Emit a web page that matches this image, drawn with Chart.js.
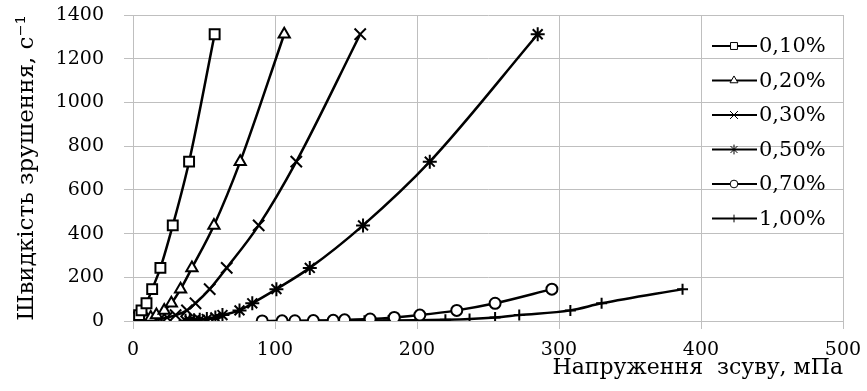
<!DOCTYPE html>
<html>
<head>
<meta charset="utf-8">
<script src="https://cdn.jsdelivr.net/npm/chart.js@4.4.1/dist/chart.umd.min.js"></script>
<style>
  html, body { margin: 0; padding: 0; background: #fff; }
</style>
</head>
<body>
<canvas id="shearChart" width="867" height="391"></canvas>
<script>
// series labels and marker shapes
const seriesLabels = ['0,10%', '0,20%', '0,30%', '0,50%', '0,70%', '1,00%'];
const markers = ['rect', 'triangle', 'crossRot', 'star', 'circle', 'cross'];
const markerRadius = [7, 6.5, 8, 7, 5.5, 5.5];

// shear stress, mPa (x) for each series
const stress010 = [0.4, 0.6, 0.9, 1.4, 2, 3, 4.3, 6, 9.5, 13.5, 19.3, 28, 39.5, 57.5];
const stress020 = [2.5, 3.5, 5, 7, 9.5, 12.5, 16.5, 22, 27, 33.5, 41.5, 57, 75.5, 106.5];
const stress030 = [6, 8, 11, 15, 19, 24, 30, 38, 44, 54, 66, 88.5, 115, 160];
const stress050 = [37, 40, 43, 47, 52, 58, 63, 75, 84, 101, 124.5, 162, 209, 285];
const stress070 = [91, 105, 114, 127, 141, 149, 167, 184, 202, 228, 255, 295];
const stress100 = [125, 149, 163, 180, 199, 220, 237, 255, 272, 308, 330, 387];

// shear rate, 1/s (y)
const rate14 = [1, 1.8, 3, 5.4, 9, 16.2, 27, 48.6, 81, 145.8, 243, 437.4, 729, 1312];
const rate12 = [0.3, 0.6, 1, 1.8, 3, 5.4, 9, 16.2, 27, 48.6, 81, 145.8];

const stressSets = [stress010, stress020, stress030, stress050, stress070, stress100];
const rateSets = [rate14, rate14, rate14, rate14, rate12, rate12];

const datasets = seriesLabels.map(function (label, i) {
  return {
    label: label,
    data: stressSets[i].map(function (x, j) { return { x: x, y: rateSets[i][j] }; }),
    showLine: true,
    borderColor: '#000',
    borderWidth: 2.5,
    cubicInterpolationMode: 'monotone',
    pointStyle: markers[i],
    pointRadius: markerRadius[i],
    pointBorderWidth: 2,
    pointBorderColor: '#000',
    pointBackgroundColor: '#fff'
  };
});

// legend with line + marker, drawn inside the plot
const lineLegend = {
  id: 'lineLegend',
  afterDraw: function (chart) {
    const ctx = chart.ctx;
    const x0 = chart.scales.x.getPixelForValue(400);
    const top = chart.chartArea.top;
    ctx.save();
    chart.data.datasets.forEach(function (ds, i) {
      const y = top + 31 + i * 34.5;
      ctx.strokeStyle = '#000';
      ctx.lineWidth = 2;
      ctx.beginPath();
      ctx.moveTo(x0 + 11, y);
      ctx.lineTo(x0 + 56, y);
      ctx.stroke();
      ctx.lineWidth = 1;
      ctx.fillStyle = '#fff';
      Chart.helpers.drawPoint(ctx, { pointStyle: ds.pointStyle, radius: ds.pointRadius * 0.7, rotation: 0, borderWidth: 1 }, x0 + 33, y);
      ctx.fillStyle = '#000';
      ctx.font = '21px "DejaVu Serif"';
      ctx.textAlign = 'left';
      ctx.textBaseline = 'middle';
      ctx.fillText(ds.label, x0 + 58, y + 1);
    });
    ctx.restore();
  }
};

new Chart(document.getElementById('shearChart').getContext('2d'), {
  type: 'scatter',
  data: { datasets: datasets },
  options: {
    responsive: false,
    animation: false,
    layout: { autoPadding: false, padding: { top: 15, right: 24, left: 0, bottom: 0 } },
    plugins: {
      legend: { display: false },
      tooltip: { enabled: false }
    },
    scales: {
      x: {
        min: 0,
        max: 500,
        afterFit: function (scale) {
          scale.height = 70;
          scale.paddingLeft = 0;
          scale.paddingRight = 0;
        },
        ticks: {
          stepSize: 100,
          color: '#000',
          padding: 10,
          font: { family: 'DejaVu Serif', size: 19 },
          callback: function (v) { return String(v); }
        },
        grid: { color: '#bfbfbf', tickLength: 8 },
        border: { color: '#bfbfbf' },
        title: {
          display: true,
          text: 'Напруження  зсуву, мПа',
          align: 'end',
          color: '#000',
          font: { family: 'DejaVu Serif', size: 22 },
          padding: { top: 0, bottom: 10 }
        }
      },
      y: {
        min: 0,
        max: 1400,
        afterFit: function (scale) {
          scale.width = 133;
          scale.paddingTop = 0;
          scale.paddingBottom = 0;
        },
        ticks: {
          stepSize: 200,
          color: '#000',
          padding: 20,
          font: { family: 'DejaVu Serif', size: 19 },
          callback: function (v) { return String(v); }
        },
        grid: { color: '#bfbfbf', tickLength: 9 },
        border: { color: '#bfbfbf' },
        title: {
          display: true,
          text: 'Швидкість зрушення, с⁻¹',
          color: '#000',
          font: { family: 'DejaVu Serif', size: 23 },
          padding: { top: 13, bottom: 0 }
        }
      }
    }
  },
  plugins: [lineLegend]
});
</script>
</body>
</html>
